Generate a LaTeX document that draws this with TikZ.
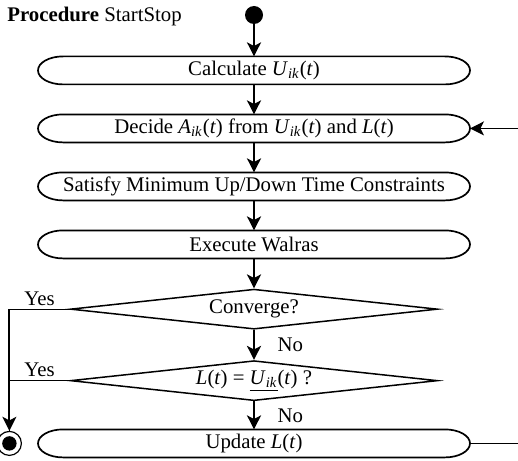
\documentclass[tikz,border=0pt]{standalone}
\usepackage{fontspec}
\setmainfont{Liberation Serif}
\usepackage{tikz}
\usetikzlibrary{positioning, shapes.geometric, arrows.meta}

\newcommand{\vU}{\textit{U}\textsubscript{\textit{ik}}(\textit{t})}
\newcommand{\vA}{\textit{A}\textsubscript{\textit{ik}}(\textit{t})}
\newcommand{\vL}{\textit{L}(\textit{t})}

\begin{document}
\begin{tikzpicture}[x=0.5pt, y=-0.5pt, >={Stealth[length=7pt,width=7pt,inset=1.8pt]}, font=\fontsize{10.4}{12}\selectfont]

        % Define block styles
        \tikzstyle{activity} = [rectangle, minimum width=191pt, minimum height=14pt, inner xsep=0pt, inner ysep=1pt, outer xsep=12.5pt, outer ysep=0pt, text centered]
        \tikzstyle{outline} = [line width=0.85pt]
        \tikzstyle{decision} = [diamond, draw, line width=0.75pt, aspect=9, minimum width=183.5pt, minimum height=20pt, inner sep=0pt]
        \tikzstyle{arrow} = [line width=1pt, ->]
        \tikzstyle{line} = [line width=0.6pt]

        \useasboundingbox (0,0) rectangle (518,460);

        % Components
        \node (title) [anchor=base west, inner sep=0pt] at (7,22) {\textbf{Procedure} StartStop};
        \node (start) [circle, fill, minimum size=9pt, inner sep=0pt] at (254,15) {};
        \node (calc) [activity, below=16pt of start] {Calculate \vU};
        \node (decide) [activity, below=15pt of calc] {Decide \vA{} from \vU{} and \vL};
        \node (satisfy) [activity, below=15pt of decide] {Satisfy Minimum Up/Down Time Constraints};
        \node (walras) [activity, below=15pt of satisfy] {Execute Walras};
        \node (conv) [decision, below=15pt of walras] {Converge?};
        \node (check) [decision, below=15pt of conv] {\vL{} = \underline{\textit{U}\textsubscript{\textit{ik}}}(\textit{t}) ?};
        \node (update) [activity, below=14pt of check] {Update \vL};
        \node (stop) [circle, draw, line width=0.6pt, minimum size=12pt, inner sep=0pt, left=8pt of update] {};
        \fill (stop.center) circle[radius=3.6pt];

        % Outlines of the activities
        \foreach \n in {calc,decide,satisfy,walras,update}
          \draw[outline] ([xshift=12.5pt]\n.north west) -- ([xshift=-12.5pt]\n.north east)
            arc[start angle=90, end angle=-90, x radius=12.5pt, y radius=7pt]
            -- ([xshift=12.5pt]\n.south west)
            arc[start angle=270, end angle=90, x radius=12.5pt, y radius=7pt] -- cycle;

        \coordinate (loopout) at ([xshift=25pt]update.east);
        \coordinate (loopin) at (loopout |- decide.east);

        % Arrows
        \draw [arrow] (start) -- (calc);
        \draw [arrow] (calc) -- (decide);
        \draw [arrow] (decide) -- (satisfy);
        \draw [arrow] (satisfy) -- (walras);
        \draw [arrow] (walras) -- (conv);
        \draw [arrow] (conv) -- node[right=8pt] {No} (check);
        \draw [arrow] (check) -- node[right=8pt] {No} (update);
        \draw [line] (conv.west) -| node[pos=0.25, above, inner sep=1.5pt] {Yes} (stop);
        \draw [arrow] (conv.west -| stop) -- (stop);
        \draw [line] (check.west) -- node[above, inner sep=1.5pt] {Yes} (check.west -| stop);
        \draw [line] (update.east) -- (loopout);
        \draw [line, ->] (loopin) -- (decide.east);

      \end{tikzpicture}
\end{document}
